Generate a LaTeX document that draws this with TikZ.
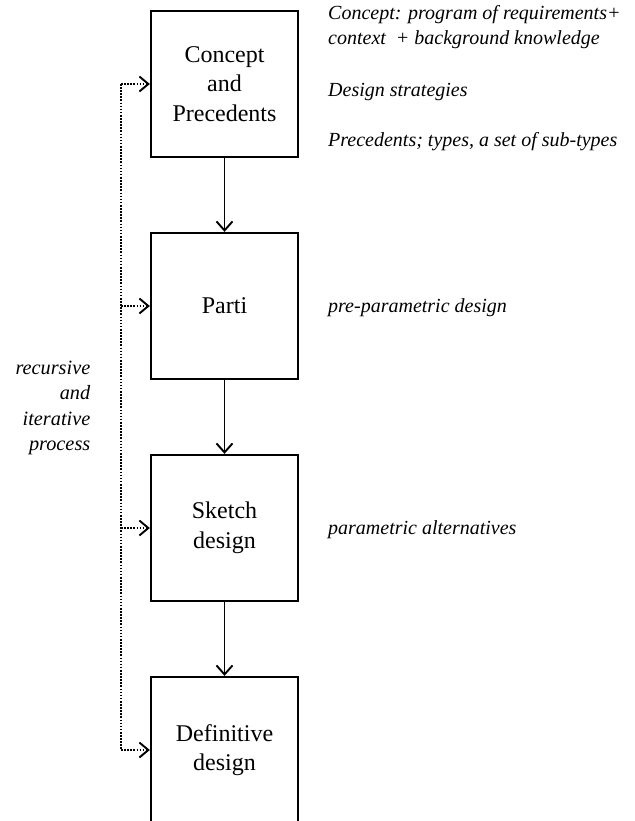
\documentclass[tikz,border=0pt]{standalone}
\usepackage{fontspec}
\setmainfont{Liberation Serif}
\usetikzlibrary{arrows.meta}
\tikzset{
  stage/.style={draw, line width=2.3pt, minimum width=147pt, minimum height=146pt,
    inner sep=0pt, align=center, font=\fontsize{24}{29.5}\selectfont},
  flow/.style={line width=1.9pt, -{Straight Barb[length=9pt,width=16pt,line width=1.9pt]}},
  loop/.style={line width=1.9pt, dash pattern=on 1.6pt off 1.5pt,
    -{Straight Barb[length=9pt,width=15pt,line width=1.9pt]}},
  rail/.style={line width=1.9pt, dash pattern=on 1.6pt off 1.5pt},
  note/.style={anchor=west, inner sep=0pt, align=left,
    font=\itshape\fontsize{20}{25}\selectfont},
  side/.style={anchor=east, inner sep=0pt, align=right,
    font=\itshape\fontsize{20.3}{25.2}\selectfont}
}
\begin{document}
\begin{tikzpicture}[x=1pt,y=-1pt]
\useasboundingbox (0,0) rectangle (634,821);
\clip (0,0) rectangle (634,821);

% the four design stages
\node[stage] (s1) at (224.5,84)  {Concept\\and\\Precedents};
\node[stage] (s2) at (224.5,306) {Parti};
\node[stage] (s3) at (224.5,528) {Sketch\\design};
\node[stage] (s4) at (224.5,750) {Definitive\\design};

% forward flow
\draw[flow] (s1.south) -- (s2.north);
\draw[flow] (s2.south) -- (s3.north);
\draw[flow] (s3.south) -- (s4.north);

% feedback rail on the left
\coordinate (r1) at (121,84);
\coordinate (r2) at (121,306);
\coordinate (r3) at (121,528);
\coordinate (r4) at (121,750);
\draw[rail] (r1) -- (r4);
\draw[loop] (r1) -- (s1.west);
\draw[loop] (r2) -- (s2.west);
\draw[loop] (r3) -- (s3.west);
\draw[loop] (r4) -- (s4.west);

\node[side] (lbl) at (90.5,408) {recursive\\and\\iterative\\process};

% notes beside the stages
\node[note] (n1) at (328,27) {Concept: program of requirements+\\context \ + background knowledge};
\node[note] (n2) at (328,92) {Design strategies};
\node[note] (n3) at (328,142) {Precedents; types, a set of sub-types};
\node[note] (n4) at (328,308) {pre-parametric design};
\node[note] (n5) at (328,530) {parametric alternatives};
\end{tikzpicture}
\end{document}
